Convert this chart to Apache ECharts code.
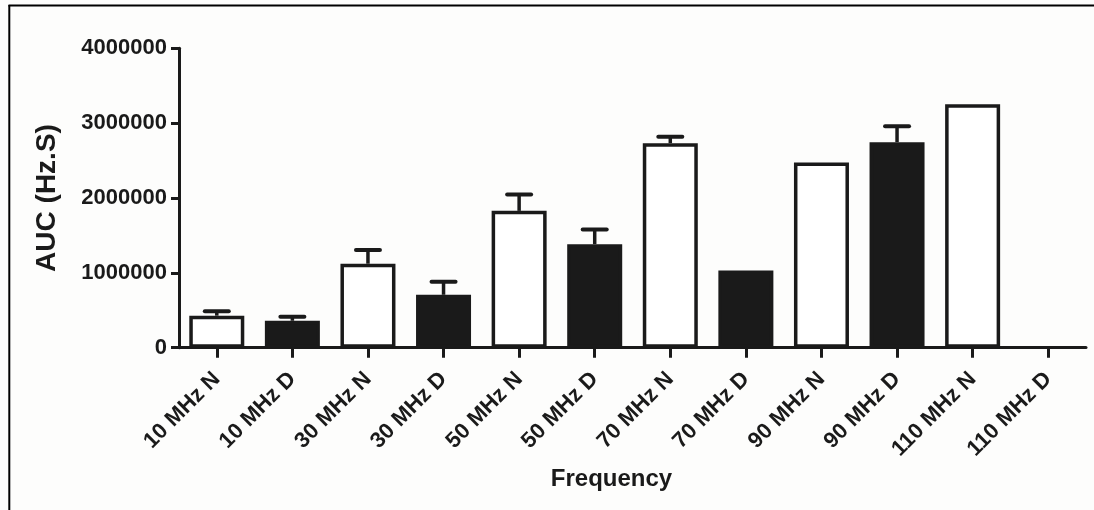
<!DOCTYPE html>
<html><head><meta charset="utf-8">
<script src="https://cdn.jsdelivr.net/npm/echarts@6/dist/echarts.min.js"></script>
<style>html,body{margin:0;padding:0;background:#fdfdfc}#c{width:1094px;height:510px}</style>
</head><body><div id="c"></div>
<script>
// ---- data ----
const categories = ['10 MHz N','10 MHz D','30 MHz N','30 MHz D','50 MHz N','50 MHz D','70 MHz N','70 MHz D','90 MHz N','90 MHz D','110 MHz N','110 MHz D'];
const auc        = [428000, 360000, 1122000, 707000, 1828000, 1383000, 2732000, 1031000, 2474000, 2746000, 3253000, null];
const aucErrUp   = [58000, 54000, 184000, 175000, 219000, 196000, 87000, 0, 0, 212000, 0, 0];
const yTicks     = [0, 1000000, 2000000, 3000000, 4000000];
const axisTitleX = 'Frequency';
const axisTitleY = 'AUC (Hz.S)';

// ---- styling ----
const INK = '#1a1a1a';
const FONT = 'Arial, "Liberation Sans", Helvetica, sans-serif';

const barData = auc.map((v, i) => ({
  value: v,
  itemStyle: {
    color: categories[i].endsWith('D') ? INK : '#ffffff',
    borderColor: INK,
    borderWidth: 3.5
  }
}));
const errData = [];
auc.forEach((v, i) => { if (v != null && aucErrUp[i] > 0) errData.push([i, v, v + aucErrUp[i]]); });

const chart = echarts.init(document.getElementById('c'), null, {renderer: 'canvas'});
chart.setOption({
  backgroundColor: '#fdfdfc',
  animation: false,
  grid: {left: 179, right: 8, top: 48.3, bottom: 162.3, containLabel: false},
  graphic: [
    {type: 'line', shape: {x1: 8.5, y1: 5.6, x2: 1094, y2: 5.6}, style: {stroke: '#000', lineWidth: 2}},
    {type: 'line', shape: {x1: 9.3, y1: 5, x2: 9.3, y2: 510}, style: {stroke: '#000', lineWidth: 2}}
  ],
  xAxis: {
    type: 'category',
    data: categories,
    name: axisTitleX,
    nameLocation: 'middle',
    nameGap: 120,
    nameTextStyle: {fontFamily: FONT, fontWeight: 'bold', fontSize: 24, color: INK, padding: [0, 42, 0, 0]},
    axisLine: {show: true, lineStyle: {color: INK, width: 3}},
    axisTick: {show: true, alignWithLabel: true, length: 10, lineStyle: {color: INK, width: 3}},
    axisLabel: {rotate: 45, margin: 28, interval: 0, fontFamily: FONT, fontWeight: 'bold', fontSize: 22, color: INK},
    splitLine: {show: false}
  },
  yAxis: {
    type: 'value',
    min: yTicks[0],
    max: yTicks[yTicks.length - 1],
    interval: yTicks[1] - yTicks[0],
    name: axisTitleY,
    nameLocation: 'middle',
    nameGap: 118,
    nameTextStyle: {fontFamily: FONT, fontWeight: 'bold', fontSize: 28, color: INK},
    axisLine: {show: true, lineStyle: {color: INK, width: 3}},
    axisTick: {show: true, length: 8, lineStyle: {color: INK, width: 3}},
    axisLabel: {margin: 12, formatter: v => String(v), fontFamily: FONT, fontWeight: 'bold', fontSize: 22, color: INK},
    splitLine: {show: false}
  },
  series: [
    {
      type: 'bar',
      data: barData,
      barWidth: 55,
      z: 2
    },
    {
      type: 'custom',
      z: 3,
      data: errData,
      renderItem: function (params, api) {
        const base = api.coord([api.value(0), api.value(1)]);
        const top = api.coord([api.value(0), api.value(2)]);
        const half = 12;
        return {
          type: 'group',
          children: [
            {type: 'line', shape: {x1: base[0], y1: base[1], x2: top[0], y2: top[1]},
             style: {stroke: INK, lineWidth: 3.5}},
            {type: 'line', shape: {x1: top[0] - half, y1: top[1], x2: top[0] + half, y2: top[1]},
             style: {stroke: INK, lineWidth: 4, lineCap: 'round'}}
          ]
        };
      }
    }
  ]
});
</script>
</body></html>
